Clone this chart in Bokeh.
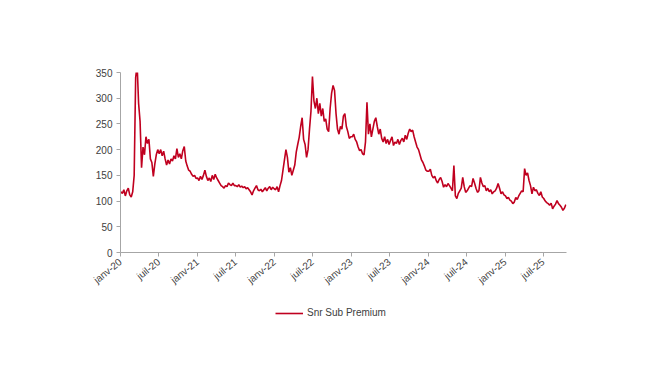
import pandas as pd
from bokeh.plotting import figure
from bokeh.layouts import column
from bokeh.models import Range1d, FixedTicker, Legend, LegendItem, ColumnDataSource
from bokeh.embed import file_html
from bokeh.resources import INLINE

# Weekly readings (Fridays) of the Snr Sub Premium, in bp
v2020 = [118, 115, 122, 110, 120,
         125, 112, 108, 118,
         150, 340, 365, 290,
         255, 165, 205, 190,
         225, 212, 220, 182, 175,
         148, 172, 190, 200,
         192, 200, 188, 197, 182,
         170, 180, 172, 182,
         178, 188, 182, 202,
         185, 192, 182, 198, 206,
         178, 168, 160, 158,
         152, 148, 150, 144]
v2021 = [145, 140, 148, 142, 150,
         160, 148, 140, 145,
         138, 150, 142, 152,
         145, 140, 135, 130, 128,
         125, 130, 128, 135,
         132, 130, 135, 130,
         130, 128, 132, 127, 129,
         126, 128, 124, 126,
         122, 118, 112, 120,
         125, 130, 122, 120, 123,
         118, 122, 126, 120,
         125, 128, 122, 127, 124]
v2022 = [122, 128, 118, 130,
         140, 160, 180, 200,
         185, 156, 165, 150,
         160, 170, 195, 210, 224,
         245, 262, 220, 210,
         185, 200, 240, 275,
         342, 295, 280, 300, 270,
         290, 265, 280, 255,
         260, 240, 235, 280, 310,
         325, 315, 270, 240,
         230, 245, 240, 265,
         270, 245, 235, 222, 225]
v2023 = [225, 230, 220, 215,
         205, 198, 200, 192,
         190, 215, 292, 230, 250,
         225, 240, 255, 262,
         245, 230, 240, 222,
         215, 225, 212, 220, 210,
         218, 225, 208, 215,
         212, 220, 210, 218,
         222, 215, 228, 220, 232,
         240, 235, 238, 225,
         215, 205, 200, 190,
         180, 175, 168, 160, 158]
v2024 = [158, 162, 150, 145,
         148, 140, 135, 142,
         146, 138, 127, 132, 128,
         134, 130, 125, 120,
         169, 110, 105, 115, 120,
         125, 146, 128, 117,
         120, 125, 130, 128,
         144, 135, 125, 117, 120,
         146, 135, 128, 130,
         120, 125, 118, 122,
         114, 118, 120, 125, 134,
         125, 114, 118, 112]
v2025 = [110, 105, 107, 102, 100,
         95, 98, 107, 103,
         110, 115, 120, 118,
         163, 150, 155, 140,
         130, 114, 127, 120, 122,
         115, 111, 118, 108,
         105, 100, 97, 95,
         92, 96, 85, 90, 94,
         101, 95, 92, 88,
         82, 86, 93]

series_name = "Snr Sub Premium"
first_date = "2020-01-03"
x_start, x_end = "2020-01-01", "2025-10-20"
y_ticks = [0, 50, 100, 150, 200, 250, 300, 350]
tick_dates = ["2020-01-01", "2020-07-01", "2021-01-01", "2021-07-01",
              "2022-01-01", "2022-07-01", "2023-01-01", "2023-07-01",
              "2024-01-01", "2024-07-01", "2025-01-01", "2025-07-01"]
tick_labels = ["janv-20", "juil-20", "janv-21", "juil-21",
               "janv-22", "juil-22", "janv-23", "juil-23",
               "janv-24", "juil-24", "janv-25", "juil-25"]

LINE_COLOR = "#C0001F"
FONT = "Liberation Sans"
TEXT_COLOR = "#404040"

values = v2020 + v2021 + v2022 + v2023 + v2024 + v2025
dates = pd.date_range(first_date, periods=len(values), freq="7D")
src = ColumnDataSource(dict(date=dates, value=values))

p = figure(frame_width=446, frame_height=180, x_axis_type="datetime",
           output_backend="svg", toolbar_location=None,
           x_range=Range1d(pd.Timestamp(x_start), pd.Timestamp(x_end)),
           y_range=Range1d(y_ticks[0], y_ticks[-1]),
           min_border_left=120, min_border_right=64,
           min_border_top=72, min_border_bottom=50)
p.background_fill_color = "white"
p.border_fill_color = "white"
p.outline_line_color = None
p.xgrid.visible = False
p.ygrid.visible = False

r = p.line("date", "value", source=src, line_color=LINE_COLOR, line_width=1.6)

tick_ms = [int(pd.Timestamp(d).value // 10**6) for d in tick_dates]
p.xaxis.ticker = FixedTicker(ticks=tick_ms)
p.xaxis.major_label_overrides = {t: l for t, l in zip(tick_ms, tick_labels)}
p.xaxis.major_label_orientation = 0.68
p.yaxis.ticker = FixedTicker(ticks=y_ticks)

for ax in (p.xaxis, p.yaxis):
    ax.axis_line_color = "#A6A6A6"
    ax.major_tick_line_color = "#A6A6A6"
    ax.minor_tick_line_color = None
    ax.major_tick_in = 0
    ax.major_tick_out = 4
    ax.major_label_text_font = FONT
    ax.major_label_text_font_size = "10px"
    ax.major_label_text_color = TEXT_COLOR
    ax.major_label_standoff = 4

# Legend strip below the chart (its line renderer falls outside its ranges)
pl = figure(width=630, height=22, output_backend="svg", toolbar_location=None,
            x_range=Range1d(0, 1), y_range=Range1d(0, 1),
            min_border_left=0, min_border_right=0, min_border_top=0, min_border_bottom=0)
pl.axis.visible = False
pl.grid.visible = False
pl.outline_line_color = None
pl.background_fill_color = "white"
pl.border_fill_color = "white"
key_line = pl.line("date", "value", source=src, line_color=LINE_COLOR, line_width=1.6)
legend = Legend(items=[LegendItem(label=series_name, renderers=[key_line])],
                location=(155, 6), orientation="horizontal",
                border_line_color=None, background_fill_alpha=0,
                label_text_font=FONT, label_text_font_size="10px",
                label_text_color=TEXT_COLOR, glyph_width=28, glyph_height=10,
                label_height=10, label_standoff=4, padding=0, margin=0, spacing=0)
pl.add_layout(legend, "center")

layout = column(p, pl, spacing=0)
open("out.html", "w").write(file_html(layout, INLINE))
